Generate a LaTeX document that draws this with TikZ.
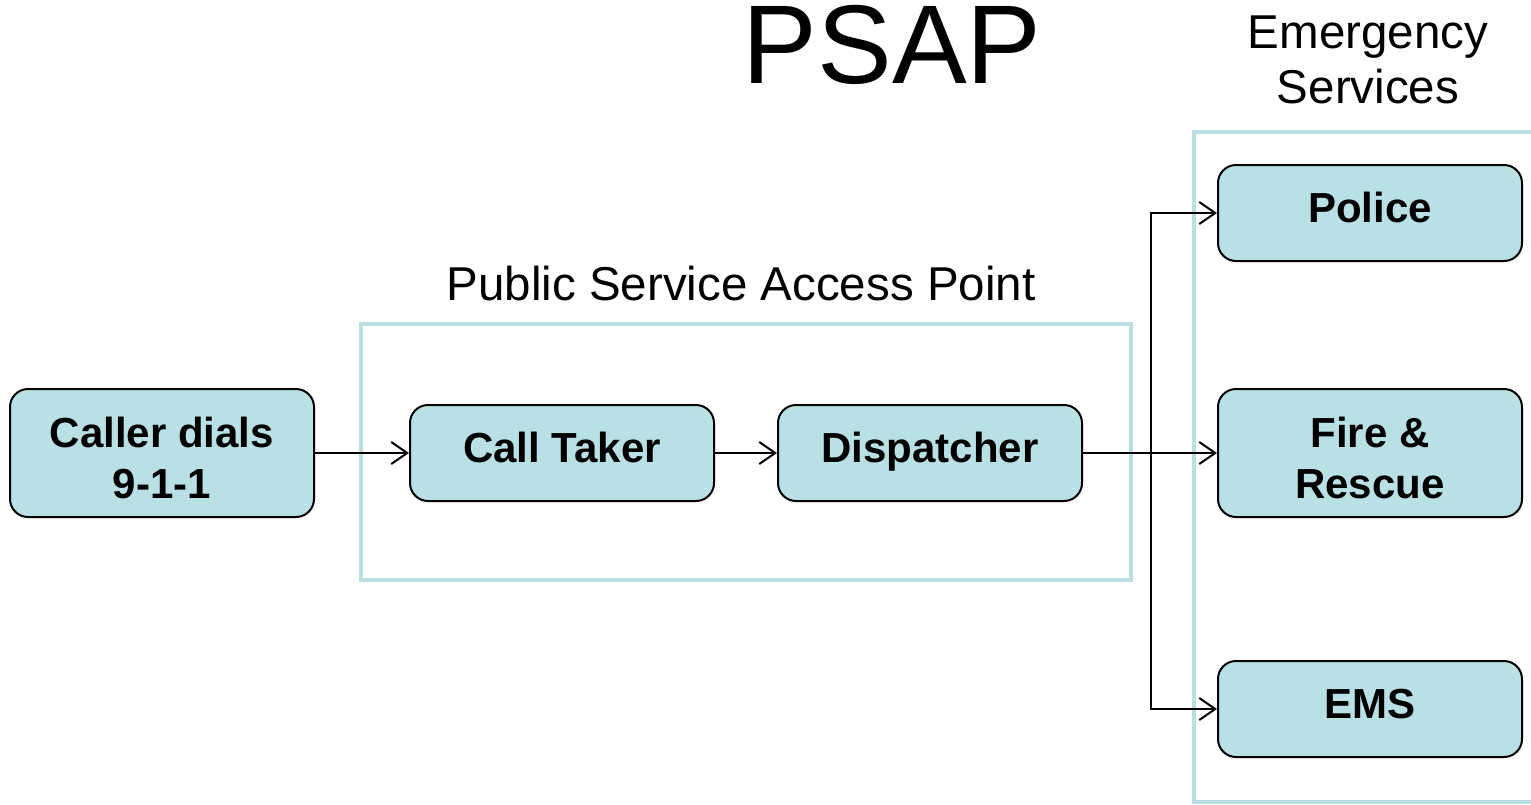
\documentclass[tikz,border=0pt]{standalone}
\usepackage{fontspec}
\setmainfont{Liberation Sans}
\usetikzlibrary{arrows.meta}
\definecolor{boxfill}{HTML}{B9E0E4}
\definecolor{frameblue}{HTML}{B9DFE3}
\begin{document}
\begin{tikzpicture}[x=1pt,y=-1pt,
  stepbox/.style={draw=black,line width=2pt,fill=boxfill,rounded corners=18pt,
    minimum width=304pt,inner sep=0pt,align=center,
    font=\fontsize{42}{51}\selectfont\bfseries},
  onebox/.style={stepbox,minimum height=96pt,text height=30pt,text depth=12pt},
  twobox/.style={stepbox,minimum height=128pt,text height=91pt,text depth=1pt},
  framebox/.style={draw=frameblue,line width=4pt},
  conn/.style={line width=2pt,-{Straight Barb[length=16pt,width=22pt,line width=2pt]}},
  lbl/.style={anchor=base,inner sep=0pt,font=\fontsize{47.5}{55}\selectfont,align=center}]
\useasboundingbox (0,0) rectangle (1531,804);
\draw[framebox] (361,324) rectangle (1131,580);
\draw[framebox] (1194,132) rectangle (1545,802);
\node[lbl,font=\fontsize{112}{112}\selectfont] (title) at (892,83) {PSAP};
\node[lbl] (es1) at (1368,48) {Emergency};
\node[lbl] (es2) at (1368,103) {Services};
\node[lbl] (psapl) at (741,300) {Public Service Access Point};
\node[twobox] (caller) at (162,453) {Caller dials\\9-1-1};
\node[onebox] (taker) at (562,453) {Call Taker};
\node[onebox] (disp) at (930,453) {Dispatcher};
\node[onebox] (police) at (1370,213) {Police};
\node[twobox] (fire) at (1370,453) {Fire \&\\Rescue};
\node[onebox] (ems) at (1370,709) {EMS};
\coordinate (br) at (1151,453);
\draw[conn] (caller) -- (taker);
\draw[conn] (taker) -- (disp);
\draw[conn] (disp) -- (fire);
\draw[conn] (br) |- (police);
\draw[conn] (br) |- (ems);
\end{tikzpicture}
\end{document}
